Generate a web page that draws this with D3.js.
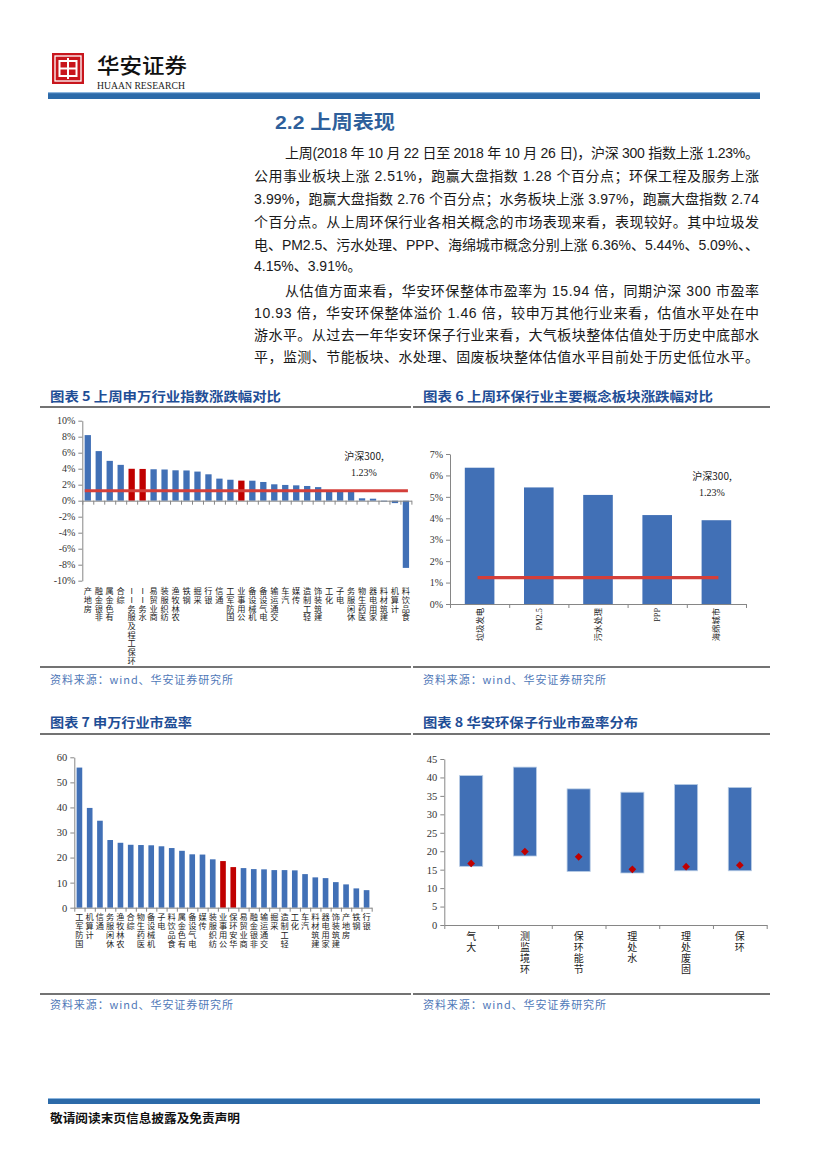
<!DOCTYPE html>
<html><head><meta charset="utf-8">
<script src="https://cdn.jsdelivr.net/npm/d3@7"></script>
<style>
html,body{margin:0;padding:0;background:#fff;}
svg{display:block;}
.vlab{writing-mode:vertical-rl;text-orientation:upright;}
</style></head>
<body>
<script>
// ---------------- DATA ----------------
const c5Cats = ["房地产","非银金融","有色金属","综合","环保工程及服务II","水务II","商业贸易","纺织服装","农林牧渔","钢铁","采掘","银行","通信","国防军工","公用事业","机械设备","电气设备","交通运输","汽车","传媒","轻工制造","建筑装饰","化工","电子","休闲服务","医药生物","家用电器","建筑材料","计算机","食品饮料"];
const c5Vals = [8.2,6.2,4.98,4.48,3.99,3.97,3.93,3.9,3.8,3.78,3.64,3.3,2.76,2.62,2.51,2.5,2.34,2.05,1.97,1.92,1.84,1.7,1.3,1.28,1.25,0.3,0.25,-0.1,-0.3,-8.4];
const c5Highlight = ["环保工程及服务II","水务II","公用事业"];
const c5Ticks = [-10,-8,-6,-4,-2,0,2,4,6,8,10];

const c6Cats = ["垃圾发电","PM2.5","污水处理","PPP","海绵城市"];
const c6Vals = [6.36,5.44,5.09,4.15,3.91];
const c6Ticks = [0,1,2,3,4,5,6,7];

const hs300Chg = 1.23;
const hs300Label = ["沪深300,","1.23%"];

const c7Cats = ["国防军工","计算机","通信","休闲服务","农林牧渔","综合","医药生物","机械设备","电子","食品饮料","有色金属","电气设备","传媒","纺织服装","公用事业","华安环保","商业贸易","非银金融","交通运输","采掘","轻工制造","化工","汽车","建筑材料","家用电器","建筑装饰","房地产","钢铁","银行"];
const c7Vals = [55.9,39.8,34.7,27.0,25.9,25.1,25.0,24.9,24.5,23.8,22.7,21.3,21.2,19.3,18.6,16.2,15.8,15.4,15.3,15.0,15.0,14.9,13.4,12.1,11.8,10.2,9.3,7.7,7.0];
const c7Highlight = ["公用事业","华安环保"];
const c7Ticks = [0,10,20,30,40,50,60];

const c8Cats = ["大气","环境监测","节能环保","水处理","固废处理","环保"];
const c8Min = [15.9,18.7,14.5,14.1,14.7,14.7];
const c8Max = [40.5,42.8,36.9,36.0,38.1,37.3];
const c8Cur = [16.7,19.9,18.5,15.1,15.8,16.2];
const c8Ticks = [0,5,10,15,20,25,30,35,40,45];

const paraLines = [
 "上周(2018 年 10 月 22 日至 2018 年 10 月 26 日)，沪深 300 指数上涨 1.23%。",
 "公用事业板块上涨 2.51%，跑赢大盘指数 1.28 个百分点；环保工程及服务上涨",
 "3.99%，跑赢大盘指数 2.76 个百分点；水务板块上涨 3.97%，跑赢大盘指数 2.74",
 "个百分点。从上周环保行业各相关概念的市场表现来看，表现较好。其中垃圾发",
 "电、PM2.5、污水处理、PPP、海绵城市概念分别上涨 6.36%、5.44%、5.09%、、",
 "4.15%、3.91%。",
 "从估值方面来看，华安环保整体市盈率为 15.94 倍，同期沪深 300 市盈率",
 "10.93 倍，华安环保整体溢价 1.46 倍，较申万其他行业来看，估值水平处在中",
 "游水平。从过去一年华安环保子行业来看，大气板块整体估值处于历史中底部水",
 "平，监测、节能板块、水处理、固废板块整体估值水平目前处于历史低位水平。"
];

// ---------------- STYLE ----------------
const BLUE = "#4170B6", RED = "#C00000", LINE_RED = "#D43F3A";
const TITLE_BLUE = "#1F4E96", SRC_BLUE = "#4F78B8", AXIS = "#868686";
const CJK = "'Noto Sans CJK SC','Noto Sans',sans-serif";
const SERIF = "'Liberation Serif','DejaVu Serif',serif";
const BODY = "'Liberation Sans','Noto Sans CJK SC',sans-serif";

const svg = d3.select("body").append("svg").attr("width",827).attr("height",1169);

// ---------------- HEADER ----------------
const hdr = svg.append("g");
hdr.append("rect").attr("x",52).attr("y",53).attr("width",32).attr("height",31).attr("fill","#C8161D");
hdr.append("rect").attr("x",55).attr("y",56).attr("width",26).attr("height",25).attr("fill","none").attr("stroke","#fff").attr("stroke-width",1.3);
hdr.append("rect").attr("x",59.5).attr("y",61).attr("width",17).attr("height",15).attr("fill","none").attr("stroke","#fff").attr("stroke-width",2);
hdr.append("line").attr("x1",68).attr("x2",68).attr("y1",58).attr("y2",79).attr("stroke","#fff").attr("stroke-width",2);
hdr.append("line").attr("x1",59.5).attr("x2",76.5).attr("y1",68.5).attr("y2",68.5).attr("stroke","#fff").attr("stroke-width",2);
hdr.append("text").attr("x",97).attr("y",73).attr("font-family",CJK).attr("font-size",21).attr("font-weight",500)
  .attr("textLength",90).attr("lengthAdjust","spacingAndGlyphs").attr("fill","#111").text("华安证券");
hdr.append("text").attr("x",97).attr("y",88.5).attr("font-family",SERIF).attr("font-size",10.5)
  .attr("textLength",88).attr("lengthAdjust","spacingAndGlyphs").attr("fill","#222").text("HUAAN RESEARCH");
hdr.append("rect").attr("x",48).attr("y",93).attr("width",712).attr("height",6).attr("fill","#2C6AA9");
hdr.append("rect").attr("x",48).attr("y",92).attr("width",712).attr("height",1.2).attr("fill","#8DB6DE");

svg.append("text").attr("x",275).attr("y",129).attr("font-family",BODY).attr("font-size",19).attr("font-weight",700)
  .attr("fill","#2E5F9B").attr("textLength",120).attr("lengthAdjust","spacingAndGlyphs").text("2.2 上周表现");

// ---------------- PARAGRAPH ----------------
const lineY = [158,181,204,227,250,271,296,318,340,362];
paraLines.forEach((t,i)=>{
  const indent = (i===0 || i===6);
  const x = indent ? 285 : 254;
  const tx = svg.append("text").attr("x",x).attr("y",lineY[i]).attr("font-family",BODY)
    .attr("font-size",14).attr("fill","#1a1a1a").text(t);
  if (i!==5) tx.attr("textLength", 759 - x).attr("lengthAdjust","spacing");
});

// ---------------- HELPERS ----------------
function panelFrame(x0,x1,titleY,title,titleLen,lineTop,lineBot,srcY){
  svg.append("text").attr("x",x0+10).attr("y",titleY).attr("font-family",CJK).attr("font-size",13)
    .attr("font-weight",700).attr("fill",TITLE_BLUE).attr("textLength",titleLen).attr("lengthAdjust","spacingAndGlyphs").text(title);
  svg.append("line").attr("x1",x0).attr("x2",x1).attr("y1",lineTop).attr("y2",lineTop).attr("stroke","#444").attr("stroke-width",1.3);
  svg.append("line").attr("x1",x0).attr("x2",x1).attr("y1",lineBot).attr("y2",lineBot).attr("stroke","#444").attr("stroke-width",1.3);
  svg.append("text").attr("x",x0+10).attr("y",srcY).attr("font-family",CJK).attr("font-size",11)
    .attr("fill",SRC_BLUE).attr("textLength",183).attr("lengthAdjust","spacing").text("资料来源：wind、华安证券研究所");
}
function styleAxis(g){
  g.selectAll("path.domain").attr("stroke",AXIS);
  g.selectAll(".tick line").attr("stroke",AXIS);
  g.selectAll(".tick text").attr("fill","#333").attr("font-family",SERIF);
}
function yAxis(scale, x, ticks, fmt, fs){
  const g = svg.append("g").attr("transform",`translate(${x},0)`)
    .call(d3.axisLeft(scale).tickValues(ticks).tickFormat(fmt).tickSize(4).tickSizeOuter(0).tickPadding(3));
  styleAxis(g); g.selectAll(".tick text").attr("font-size",fs);
  return g;
}
function xBoundaryAxis(n, range, y){
  const lin = d3.scaleLinear().domain([0,n]).range(range);
  const g = svg.append("g").attr("transform",`translate(0,${y})`)
    .call(d3.axisBottom(lin).tickValues(d3.range(n+1)).tickFormat("").tickSize(4).tickSizeOuter(0));
  styleAxis(g);
  return g;
}
// stacked upright labels reading bottom-to-top, top-aligned (one text element per label)
function stackedLabels(cats, xs, yTop, fs, step){
  const g = svg.append("g").attr("font-family",CJK).attr("font-size",fs).attr("fill","#222");
  cats.forEach(c=>{
    const toks = c.match(/[A-Za-z0-9.]+|./g).reverse();
    const cx = xs(c) + xs.bandwidth()/2;
    g.append("text").attr("class","vlab").attr("x",cx).attr("y",yTop)
      .attr("letter-spacing", step-fs).text(toks.join(""));
  });
}
function hsAnnot(cx, y1, y2){
  const g = svg.append("g").attr("font-family",SERIF).attr("font-size",10).attr("fill","#222").attr("text-anchor","middle");
  g.append("text").attr("x",cx).attr("y",y1).attr("font-family","'Noto Sans CJK SC','Liberation Serif',serif").text(hs300Label[0]);
  g.append("text").attr("x",cx).attr("y",y2).text(hs300Label[1]);
}

// ---------------- CHART 5 ----------------
panelFrame(40,411,401,"图表 5 上周申万行业指数涨跌幅对比",231,407,667,684);
{
  const x = d3.scaleBand().domain(c5Cats).range([82.3,411.4]).paddingInner(0.425).paddingOuter(0.2125);
  const y = d3.scaleLinear().domain([-10,10]).range([580.7,420.7]);
  yAxis(y, 82.3, c5Ticks, d=>d+"%", 10);
  svg.append("g").selectAll("rect").data(c5Cats).join("rect")
    .attr("x",d=>x(d)).attr("width",x.bandwidth())
    .attr("y",(d,i)=>y(Math.max(0,c5Vals[i]))).attr("height",(d,i)=>Math.abs(y(c5Vals[i])-y(0)))
    .attr("fill",d=>c5Highlight.includes(d)?RED:BLUE);
  xBoundaryAxis(c5Cats.length,[82.3,411.4],y(0));
  svg.append("line").attr("x1",x(c5Cats[0])+x.bandwidth()/2-3).attr("x2",x(c5Cats[c5Cats.length-1])+x.bandwidth()/2+2)
    .attr("y1",y(hs300Chg)).attr("y2",y(hs300Chg)).attr("stroke",LINE_RED).attr("stroke-width",3);
  stackedLabels(c5Cats, x, 587, 8.2, 8.7);
  hsAnnot(364, 460, 476);
}

// ---------------- CHART 6 ----------------
panelFrame(413,770,401,"图表 6 上周环保行业主要概念板块涨跌幅对比",290,407,667,684);
{
  const x = d3.scaleBand().domain(c6Cats).range([450,746]).paddingInner(0.5).paddingOuter(0.25);
  const y = d3.scaleLinear().domain([0,7]).range([604,454]);
  yAxis(y, 450, c6Ticks, d=>d+"%", 10);
  svg.append("g").selectAll("rect").data(c6Cats).join("rect")
    .attr("x",d=>x(d)).attr("width",x.bandwidth())
    .attr("y",(d,i)=>y(c6Vals[i])).attr("height",(d,i)=>y(0)-y(c6Vals[i])).attr("fill",BLUE);
  xBoundaryAxis(c6Cats.length,[450,746],y(0));
  svg.append("line").attr("x1",x(c6Cats[0])+x.bandwidth()/2-2).attr("x2",x(c6Cats[c6Cats.length-1])+x.bandwidth()/2+2)
    .attr("y1",y(hs300Chg)).attr("y2",y(hs300Chg)).attr("stroke",LINE_RED).attr("stroke-width",3.3);
  const lg = svg.append("g").attr("font-size",8.3).attr("fill","#222");
  c6Cats.forEach(c=>{
    const cx = x(c)+x.bandwidth()/2;
    lg.append("text").attr("transform",`translate(${cx+3},608) rotate(-90)`).attr("text-anchor","end")
      .attr("font-family", /^[A-Za-z0-9.]+$/.test(c)?SERIF:CJK).text(c);
  });
  hsAnnot(712, 480, 496);
}

// ---------------- CHART 7 ----------------
panelFrame(40,411,727,"图表 7 申万行业市盈率",142,734,994,1009);
{
  const x = d3.scaleBand().domain(c7Cats).range([74.3,371.7]).paddingInner(0.45).paddingOuter(0.225);
  const y = d3.scaleLinear().domain([0,60]).range([907.7,757.3]);
  yAxis(y, 74.3, c7Ticks, d=>d, 10.5);
  svg.append("g").selectAll("rect").data(c7Cats).join("rect")
    .attr("x",d=>x(d)).attr("width",x.bandwidth())
    .attr("y",(d,i)=>y(c7Vals[i])).attr("height",(d,i)=>y(0)-y(c7Vals[i]))
    .attr("fill",d=>c7Highlight.includes(d)?RED:BLUE);
  xBoundaryAxis(c7Cats.length,[74.3,371.7],y(0));
  stackedLabels(c7Cats, x, 912.5, 8.2, 9);
}

// ---------------- CHART 8 ----------------
panelFrame(413,770,727,"图表 8 华安环保子行业市盈率分布",215,734,994,1009);
{
  const x = d3.scaleBand().domain(c8Cats).range([444.3,766.7]).paddingInner(0.57).paddingOuter(0.285);
  const y = d3.scaleLinear().domain([0,45]).range([925,759]);
  yAxis(y, 444.3, c8Ticks, d=>d, 10.5);
  svg.append("g").selectAll("rect").data(c8Cats).join("rect")
    .attr("x",d=>x(d)).attr("width",x.bandwidth())
    .attr("y",(d,i)=>y(c8Max[i])).attr("height",(d,i)=>y(c8Min[i])-y(c8Max[i]))
    .attr("fill",BLUE).attr("stroke","#B9CDE5").attr("stroke-width",0.8);
  xBoundaryAxis(c8Cats.length,[444.3,766.7],y(0));
  svg.append("g").selectAll("path").data(c8Cats).join("path")
    .attr("d",d3.symbol(d3.symbolSquare,30))
    .attr("transform",(d,i)=>`translate(${x(d)+x.bandwidth()/2},${y(c8Cur[i])}) rotate(45)`)
    .attr("fill",RED);
  stackedLabels(c8Cats, x, 931.5, 10, 10.8);
}

// ---------------- FOOTER ----------------
svg.append("rect").attr("x",48).attr("y",1099).attr("width",712).attr("height",5).attr("fill","#2C6AA9");
svg.append("rect").attr("x",48).attr("y",1098).attr("width",712).attr("height",1).attr("fill","#8DB6DE");
svg.append("text").attr("x",50).attr("y",1123).attr("font-family",CJK).attr("font-size",12).attr("font-weight",700)
  .attr("fill","#111").attr("textLength",190).attr("lengthAdjust","spacingAndGlyphs").text("敬请阅读末页信息披露及免责声明");
</script>
</body></html>
